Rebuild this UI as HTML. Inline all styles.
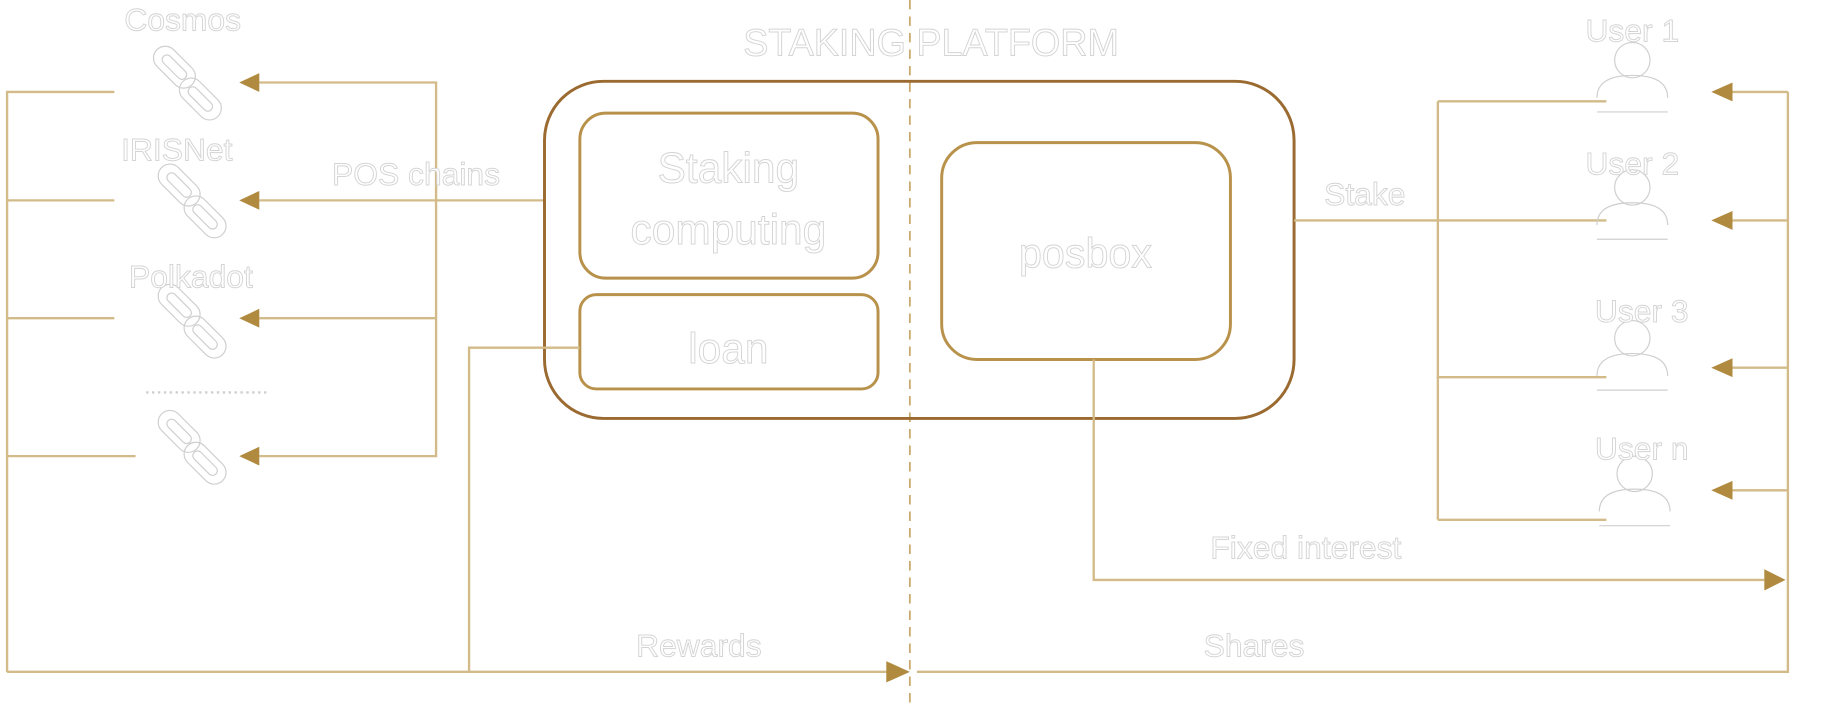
<!DOCTYPE html>
<html><head><meta charset="utf-8"><style>
html,body{margin:0;padding:0;background:#fff;width:1848px;height:706px;overflow:hidden}
svg{display:block}
text{font-family:"Liberation Sans",sans-serif;fill:#fff;stroke:#d4d4d4;stroke-width:0.8;text-anchor:middle}
.l{stroke:#d2bb88;stroke-width:2;fill:none}
.a{fill:#b08a3e;stroke:none}
.ic{fill:none;stroke:#cfcfcf;stroke-width:1}
</style></head><body>
<svg width="1848" height="706" viewBox="0 0 1568 599" preserveAspectRatio="none">
<defs>
<g id="chain" class="ic">
 <g transform="translate(-10,-13) rotate(45)">
  <rect x="-21" y="-10" width="42" height="20" rx="10"/>
  <rect x="-13" y="-4" width="26" height="8" rx="4"/>
 </g>
 <g transform="translate(12,14) rotate(45)">
  <rect x="-21" y="-10" width="42" height="20" rx="10"/>
  <rect x="-13" y="-4" width="26" height="8" rx="4"/>
 </g>
</g>
<g id="user" class="ic">
 <circle cx="0" cy="-16" r="15"/>
 <path d="M-30 16 Q-30 -3 0 -3 Q30 -3 30 16"/>
 <line x1="-30" y1="28" x2="30" y2="28"/>
</g>
</defs>

<line x1="772" y1="0" x2="772" y2="599" stroke="#c9a96c" stroke-width="1.5" stroke-dasharray="8,6"/>

<path class="l" d="M97 78H6V570M6 170H97M6 270H97M6 387H115"/>
<path class="l" d="M220 70H370V387H220M220 170H462M220 270H370"/>
<polygon class="a" points="203,70 220,62 220,78"/>
<polygon class="a" points="203,170 220,162 220,178"/>
<polygon class="a" points="203,270 220,262 220,278"/>
<polygon class="a" points="203,387 220,379 220,395"/>

<use href="#chain" x="158" y="70"/>
<use href="#chain" x="162" y="170"/>
<use href="#chain" x="162" y="272"/>
<use href="#chain" x="162" y="379"/>
<text x="155" y="26" font-size="27">Cosmos</text>
<text x="150" y="136" font-size="27">IRISNet</text>
<text x="162" y="244" font-size="27">Polkadot</text>
<line x1="124" y1="333" x2="228" y2="333" stroke="#cfcfcf" stroke-width="2" stroke-dasharray="2,3"/>
<text x="353" y="157" font-size="27">POS chains</text>

<text x="790" y="47" font-size="32">STAKING PLATFORM</text>
<rect x="462" y="69" width="636" height="286" rx="50" fill="none" stroke="#9a6a30" stroke-width="2.5"/>
<rect x="492" y="96" width="253" height="140" rx="22" fill="none" stroke="#b8914a" stroke-width="2.5"/>
<text x="618" y="155" font-size="36">Staking</text>
<text x="618" y="207" font-size="36">computing</text>
<rect x="492" y="250" width="253" height="80" rx="14" fill="none" stroke="#b8914a" stroke-width="2.5"/>
<text x="618" y="308" font-size="36">loan</text>
<rect x="799" y="121" width="245" height="184" rx="30" fill="none" stroke="#b8914a" stroke-width="2.5"/>
<text x="921" y="227" font-size="35">posbox</text>

<path class="l" d="M492 295H398V570"/>
<path class="l" d="M6 570H752"/>
<polygon class="a" points="772,570 752,561 752,579"/>
<text x="593" y="557" font-size="27">Rewards</text>
<path class="l" d="M778 570H1517V78"/>
<text x="1064" y="557" font-size="27">Shares</text>

<path class="l" d="M928 305V492H1497"/>
<polygon class="a" points="1515,492 1497,483 1497,501"/>
<text x="1108" y="474" font-size="27">Fixed interest</text>

<path class="l" d="M1098 187H1363M1220 86V441M1220 86H1363M1220 320H1363M1220 441H1363"/>
<text x="1158" y="174" font-size="27">Stake</text>

<path class="l" d="M1470 78H1517M1470 187H1517M1470 312H1517M1470 416H1517"/>
<polygon class="a" points="1452,78 1470,70 1470,86"/>
<polygon class="a" points="1452,187 1470,179 1470,195"/>
<polygon class="a" points="1452,312 1470,304 1470,320"/>
<polygon class="a" points="1452,416 1470,408 1470,424"/>

<use href="#user" x="1385" y="67"/>
<use href="#user" x="1385" y="175"/>
<use href="#user" x="1385" y="303"/>
<use href="#user" x="1387" y="418"/>
<text x="1385" y="35" font-size="27">User 1</text>
<text x="1385" y="148" font-size="27">User 2</text>
<text x="1393" y="273" font-size="27">User 3</text>
<text x="1393" y="390" font-size="27">User n</text>
</svg>
</body></html>
